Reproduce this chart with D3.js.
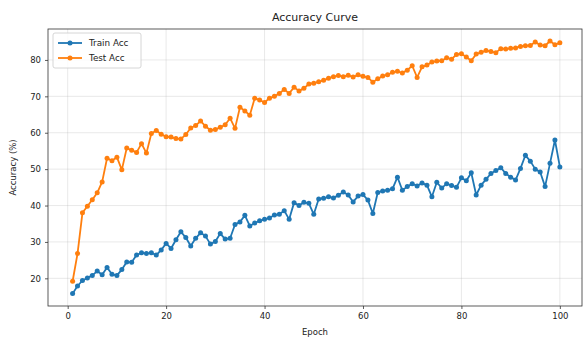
<!DOCTYPE html>
<html>
<head>
<meta charset="utf-8">
<script src="https://cdn.jsdelivr.net/npm/d3@7"></script>
<style>
  html, body { margin: 0; padding: 0; background: #fff; }
  svg { display: block; font-family: "DejaVu Sans", sans-serif; }
</style>
</head>
<body>
<svg id="chart" width="584" height="338"></svg>
<script>
// Per-epoch accuracy (%) for the training and test sets
const trainAcc = [
  15.8, 17.9, 19.4, 20.1, 20.8, 22.0, 21.0, 23.0, 21.1, 20.8,
  22.4, 24.5, 24.4, 26.4, 27.0, 26.8, 27.0, 26.4, 27.8, 29.6,
  28.2, 30.6, 32.8, 31.2, 28.9, 31.0, 32.5, 31.6, 29.4, 30.1,
  32.3, 30.8, 31.0, 34.8, 35.5, 37.3, 34.4, 35.2, 35.8, 36.2,
  36.6, 37.4, 37.6, 38.6, 36.2, 40.8, 40.0, 40.9, 40.6, 37.6,
  41.8, 42.0, 42.4, 42.1, 42.8, 43.7, 42.9, 41.0, 42.6, 43.0,
  41.5, 37.8, 43.6, 44.0, 44.2, 44.6, 47.8, 44.2, 45.2, 46.0,
  45.4, 46.2, 45.6, 42.4, 46.4, 44.8, 46.0, 45.5, 45.0, 47.6,
  46.8, 49.0, 42.9, 45.6, 47.2, 48.8, 49.6, 50.4, 48.8, 47.8,
  47.0, 50.2, 53.8, 52.2, 50.0, 49.2, 45.2, 51.6, 58.0, 50.6
];
const testAcc = [
  19.2, 26.8, 38.0, 39.8, 41.6, 43.5, 46.5, 53.0, 52.3, 53.3,
  49.8, 55.8, 55.2, 54.6, 57.0, 54.4, 59.8, 60.6, 59.6, 58.9,
  58.8, 58.4, 58.3, 59.5, 61.3, 62.0, 63.2, 61.8, 60.7, 60.9,
  61.5, 62.2, 64.0, 61.2, 67.0, 66.0, 64.8, 69.5, 69.0, 68.3,
  69.5, 70.0, 70.8, 71.9, 70.8, 72.5, 71.5, 72.2, 73.4, 73.6,
  74.0, 74.4, 75.0, 75.4, 75.7, 75.4, 75.8, 75.3, 75.9, 75.5,
  75.2, 73.9, 74.8, 75.6, 75.9, 76.6, 76.9, 76.4, 77.2, 78.4,
  75.2, 78.1, 78.6, 79.4, 79.7, 79.8, 80.6, 80.2, 81.5, 81.7,
  80.8, 79.8, 81.6, 82.1, 82.6, 82.3, 82.0, 83.1, 83.0, 83.2,
  83.3, 83.7, 83.9, 84.0, 84.9, 84.1, 83.9, 85.2, 84.2, 84.7
];
const epochs = d3.range(1, trainAcc.length + 1);
const xTicks = [0, 20, 40, 60, 80, 100];
const yTicks = [20, 30, 40, 50, 60, 70, 80];
const seriesNames = ["Train Acc", "Test Acc"];
const seriesColors = ["#1f77b4", "#ff7f0e"];
const chartTitle = "Accuracy Curve";
const xTitle = "Epoch";
const yTitle = "Accuracy (%)";

const svg = d3.select("#chart");
const plot = { left: 48, right: 582, top: 29, bottom: 306 };

const x = d3.scaleLinear().domain([-4, 104.5]).range([plot.left, plot.right]);
const y = d3.scaleLinear().domain([12.4, 88.5]).range([plot.bottom, plot.top]);

// grid
const grid = svg.append("g");
grid.selectAll("line.gx").data(xTicks).join("line")
  .attr("x1", d => x(d)).attr("x2", d => x(d))
  .attr("y1", plot.top).attr("y2", plot.bottom)
  .attr("stroke", "#b0b0b0").attr("stroke-opacity", 0.35).attr("stroke-width", 0.8);
grid.selectAll("line.gy").data(yTicks).join("line")
  .attr("x1", plot.left).attr("x2", plot.right)
  .attr("y1", d => y(d)).attr("y2", d => y(d))
  .attr("stroke", "#b0b0b0").attr("stroke-opacity", 0.35).attr("stroke-width", 0.8);

// axes
const xAxis = svg.append("g")
  .attr("transform", `translate(0,${plot.bottom})`)
  .call(d3.axisBottom(x).tickValues(xTicks).tickSize(3).tickPadding(4).tickFormat(d3.format("d")));
const yAxis = svg.append("g")
  .attr("transform", `translate(${plot.left},0)`)
  .call(d3.axisLeft(y).tickValues(yTicks).tickSize(3).tickPadding(4).tickFormat(d3.format("d")));
[xAxis, yAxis].forEach(a => {
  a.select(".domain").remove();
  a.selectAll(".tick line").attr("stroke", "#333").attr("stroke-width", 0.8);
  a.selectAll(".tick text").attr("fill", "#222").attr("font-size", 8.5)
    .attr("font-family", "DejaVu Sans, sans-serif");
});

// frame
svg.append("rect")
  .attr("x", plot.left).attr("y", plot.top)
  .attr("width", plot.right - plot.left).attr("height", plot.bottom - plot.top)
  .attr("fill", "none").attr("stroke", "#333").attr("stroke-width", 0.8);

// series
const line = d3.line().x((d, i) => x(epochs[i])).y(d => y(d));
[trainAcc, testAcc].forEach((vals, k) => {
  const g = svg.append("g");
  g.append("path").datum(vals)
    .attr("d", line).attr("fill", "none")
    .attr("stroke", seriesColors[k]).attr("stroke-width", 1.8)
    .attr("stroke-linejoin", "round");
  g.selectAll("circle").data(vals).join("circle")
    .attr("cx", (d, i) => x(epochs[i])).attr("cy", d => y(d))
    .attr("r", 2.5).attr("fill", seriesColors[k]);
});

// titles
svg.append("text").attr("x", (plot.left + plot.right) / 2).attr("y", 21)
  .attr("text-anchor", "middle").attr("font-size", 11).attr("fill", "#222").text(chartTitle);
svg.append("text").attr("x", (plot.left + plot.right) / 2).attr("y", 335)
  .attr("text-anchor", "middle").attr("font-size", 8.5).attr("fill", "#222").text(xTitle);
svg.append("text")
  .attr("transform", `translate(16,${(plot.top + plot.bottom) / 2}) rotate(-90)`)
  .attr("text-anchor", "middle").attr("font-size", 8.5).attr("fill", "#222").text(yTitle);

// legend
const lg = svg.append("g").attr("transform", `translate(${plot.left + 5},${plot.top + 4})`);
lg.append("rect").attr("width", 88).attr("height", 35).attr("rx", 2)
  .attr("fill", "#fff").attr("fill-opacity", 0.8)
  .attr("stroke", "#ccc").attr("stroke-width", 0.8);
seriesNames.forEach((name, k) => {
  const yy = 10 + k * 15;
  lg.append("line").attr("x1", 5).attr("x2", 29).attr("y1", yy).attr("y2", yy)
    .attr("stroke", seriesColors[k]).attr("stroke-width", 1.8);
  lg.append("circle").attr("cx", 17).attr("cy", yy).attr("r", 2.5).attr("fill", seriesColors[k]);
  lg.append("text").attr("x", 36).attr("y", yy + 3).attr("font-size", 8.8)
    .attr("fill", "#222").text(name);
});
</script>
</body>
</html>
